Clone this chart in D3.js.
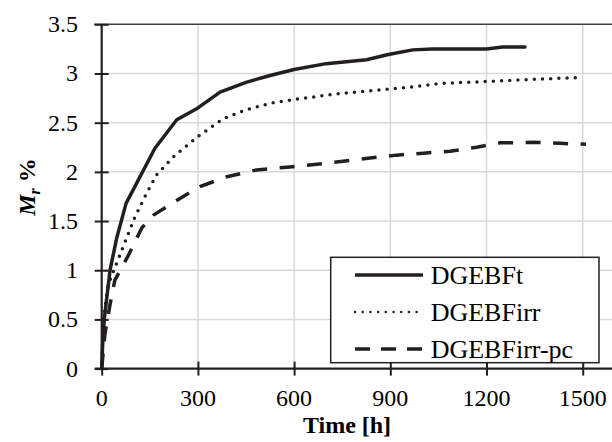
<!DOCTYPE html>
<html><head><meta charset="utf-8"><script src="https://cdn.jsdelivr.net/npm/d3@7"></script>
<style>body{margin:0}</style></head>
<body><svg id="c" width="612" height="442"></svg>
<script>
const seriesNames = ["DGEBFt", "DGEBFirr", "DGEBFirr-pc"];
const timeDGEBFt = [0, 3, 8, 26, 47, 76, 166, 234, 300, 369, 450, 525, 600, 700, 826, 890, 970, 1030, 1200, 1250, 1320];
const mrDGEBFt   = [0, 0.25, 0.5, 1.0, 1.33, 1.68, 2.24, 2.53, 2.65, 2.81, 2.91, 2.98, 3.04, 3.10, 3.14, 3.19, 3.24, 3.25, 3.25, 3.27, 3.27];
const timeDGEBFirr = [0, 5, 20, 44, 73, 102, 135, 171, 223, 300, 379, 450, 530, 608, 753, 857, 961, 1060, 1211, 1346, 1500];
const mrDGEBFirr   = [0, 0.5, 0.85, 1.05, 1.29, 1.53, 1.75, 1.97, 2.15, 2.36, 2.54, 2.63, 2.70, 2.74, 2.80, 2.83, 2.86, 2.90, 2.92, 2.94, 2.96];
const timeDGEBFirrPc = [0, 10, 26, 41, 83, 125, 161, 244, 306, 390, 483, 587, 691, 795, 920, 1003, 1086, 1169, 1200, 1242, 1346, 1429, 1510];
const mrDGEBFirrPc   = [0, 0.35, 0.65, 0.9, 1.15, 1.43, 1.56, 1.73, 1.85, 1.95, 2.02, 2.05, 2.085, 2.125, 2.17, 2.19, 2.21, 2.25, 2.27, 2.295, 2.30, 2.29, 2.28];
const xTicks = [0, 300, 600, 900, 1200, 1500];
const yTicks = [0, 0.5, 1, 1.5, 2, 2.5, 3, 3.5];

const svg = d3.select("#c");
const x = d3.scaleLinear().domain([0, 1600]).range([101.7, 614.8]);
const y = d3.scaleLinear().domain([0, 3.5]).range([368.6, 24.3]);
const ink = "#231f20";
function txt(sel) { return sel.style("font-family", `"Liberation Serif"`); }

svg.append("g").selectAll("line").data(yTicks.slice(1, -1)).join("line")
  .attr("x1", x(0)).attr("x2", 612).attr("y1", d => y(d)).attr("y2", d => y(d))
  .attr("stroke", "#d9d9d9").attr("stroke-width", 1.5);
svg.append("g").selectAll("line").data(xTicks.slice(1)).join("line")
  .attr("x1", d => x(d)).attr("x2", d => x(d)).attr("y1", y(3.5)).attr("y2", y(0))
  .attr("stroke", "#d9d9d9").attr("stroke-width", 1.5);
svg.append("line").attr("x1", 94).attr("x2", 612).attr("y1", y(3.5)).attr("y2", y(3.5))
  .attr("stroke", "#404040").attr("stroke-width", 1.5);

const series = [
  { t: timeDGEBFt, m: mrDGEBFt, dash: null, cap: "round" },
  { t: timeDGEBFirr, m: mrDGEBFirr, dash: "0,8.2", cap: "round" },
  { t: timeDGEBFirrPc, m: mrDGEBFirrPc, dash: "15,12.5", cap: "butt" }
];
const line = d3.line().x(d => x(d[0])).y(d => y(d[1]));
series.forEach(s => {
  svg.append("path").datum(s.t.map((t, i) => [t, s.m[i]])).attr("d", line)
    .attr("fill", "none").attr("stroke", ink).attr("stroke-width", 3.5)
    .attr("stroke-linecap", s.cap).attr("stroke-linejoin", "round")
    .attr("stroke-dasharray", s.dash);
});

const yAxis = svg.append("g").attr("transform", `translate(${x(0)},0)`)
  .call(d3.axisLeft(y).tickValues(yTicks).tickSize(7).tickFormat(""));
const xAxis = svg.append("g").attr("transform", `translate(0,${y(0)})`)
  .call(d3.axisBottom(x).tickValues(xTicks).tickSize(7).tickFormat(""));
[yAxis, xAxis].forEach(g => {
  g.select(".domain").remove();
  g.selectAll(".tick text").remove();
  g.selectAll(".tick line").attr("stroke", ink).attr("stroke-width", 2);
});
yAxis.selectAll(".tick line").attr("x1", 7);
xAxis.selectAll(".tick line").attr("y1", -7);
svg.append("line").attr("x1", x(0)).attr("x2", x(0)).attr("y1", y(3.5)).attr("y2", y(0) + 1)
  .attr("stroke", ink).attr("stroke-width", 2.2);
svg.append("line").attr("x1", x(0) - 7).attr("x2", 612).attr("y1", y(0)).attr("y2", y(0))
  .attr("stroke", ink).attr("stroke-width", 2.2);

yTicks.forEach(d => {
  txt(svg.append("text").attr("x", 78).attr("y", y(d) + 8).attr("text-anchor", "end")
    .attr("font-size", 24)).text(String(d));
});
xTicks.forEach(d => {
  txt(svg.append("text").attr("x", x(d)).attr("y", 406).attr("text-anchor", "middle")
    .attr("font-size", 24)).text(String(d));
});

txt(svg.append("text").attr("x", 347).attr("y", 433).attr("text-anchor", "middle")
  .attr("font-size", 24).attr("font-weight", "bold")).text("Time [h]");
const yt = txt(svg.append("text").attr("transform", "translate(35,187) rotate(-90)")
  .attr("text-anchor", "middle").attr("font-size", 24).attr("font-weight", "bold"));
yt.append("tspan").attr("font-style", "italic").text("M");
yt.append("tspan").attr("font-style", "italic").attr("font-size", 16).attr("dy", 5).text("r");
yt.append("tspan").attr("dy", -5).text(" %");

svg.append("rect").attr("x", 330.7).attr("y", 257.3).attr("width", 268.3).attr("height", 105.4)
  .attr("fill", "#fff").attr("stroke", ink).attr("stroke-width", 1.5);
const legendDash = [null, "0,7.7", "15,11"];
const legendWidth = [3.5, 2.5, 3.5];
const legendCap = ["butt", "round", "butt"];
seriesNames.forEach((n, i) => {
  const cy = 275 + i * 37;
  svg.append("line").attr("x1", 355).attr("x2", 423).attr("y1", cy).attr("y2", cy)
    .attr("stroke", ink).attr("stroke-width", legendWidth[i])
    .attr("stroke-linecap", legendCap[i]).attr("stroke-dasharray", legendDash[i]);
  txt(svg.append("text").attr("x", 430.7).attr("y", cy + 9).attr("font-size", 26)).text(n);
});
</script></body></html>
